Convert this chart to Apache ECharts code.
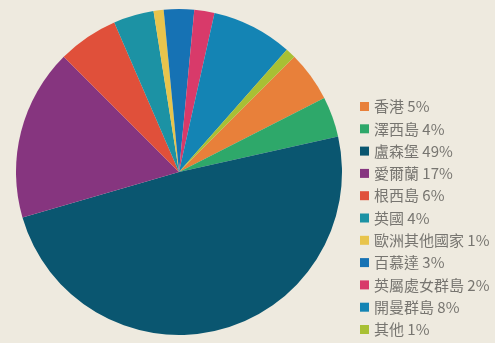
<!DOCTYPE html>
<html><head><meta charset="utf-8">
<script src="https://cdn.jsdelivr.net/npm/echarts@6/dist/echarts.min.js"></script>
<style>html,body{margin:0;padding:0;background:#eeeadf;}#c{width:495px;height:343px;}</style>
</head><body><div id="c"></div>
<script>
const categories = ['香港','澤西島','盧森堡','愛爾蘭','根西島','英國','歐洲其他國家','百慕達','英屬處女群島','開曼群島','其他'];
const values = [5,4,49,17,6,4,1,3,2,8,1];
const colors = ['#e8803a','#2ea86a','#0a5670','#86357f','#e0503a','#1c92a4','#e8c44c','#1672b4','#d83a6a','#1484b4','#a8c034'];
const valMap = {};
categories.forEach((c,i)=>valMap[c]=values[i]);
const chart = echarts.init(document.getElementById('c'));
chart.setOption({
  backgroundColor:'#eeeadf',
  animation:false,
  color: colors,
  legend:{
    orient:'vertical', left:355, top:94, height:320, icon:'rect', itemWidth:9, itemHeight:9, itemGap:7.3,
    data: categories,
    formatter: n => n + ' ' + valMap[n] + '%',
    textStyle:{color:'#777570', fontSize:15, lineHeight:15, fontFamily:'"Noto Sans CJK TC", sans-serif'}
  },
  series:[{
    type:'pie', center:[179,172], radius:163, startAngle:45, clockwise:true,
    label:{show:false}, labelLine:{show:false},
    itemStyle:{borderWidth:0},
    data: categories.map((c,i)=>({name:c, value:values[i]}))
  }]
});
</script></body></html>
